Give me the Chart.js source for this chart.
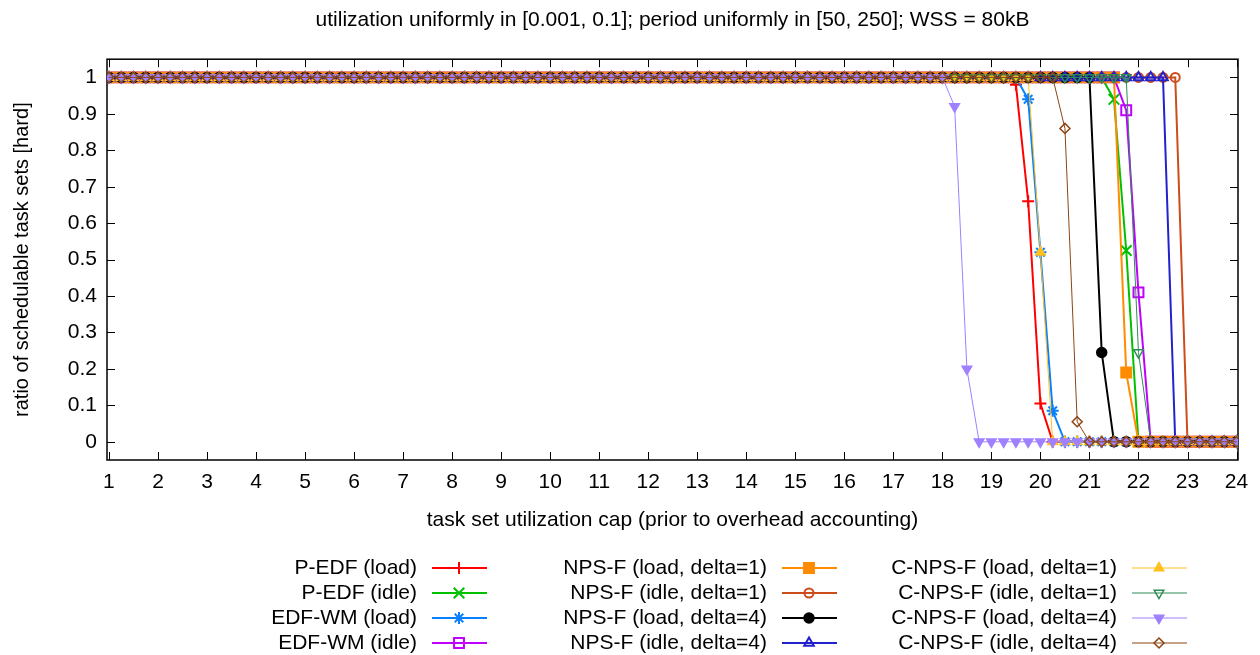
<!DOCTYPE html>
<html>
<head>
<meta charset="utf-8">
<script src="https://cdn.jsdelivr.net/npm/chart.js"></script>
<style>
  html, body { margin: 0; padding: 0; background: #fff; }
  #chart { display: block; }
</style>
</head>
<body>
<canvas id="chart" width="1260" height="655"></canvas>
<script>
// task set utilization cap, one point every 0.25
const caps = [
  1, 1.25, 1.5, 1.75, 2, 2.25, 2.5, 2.75, 3, 3.25, 3.5, 3.75, 4, 4.25, 4.5, 4.75, 5, 5.25, 5.5, 5.75,
  6, 6.25, 6.5, 6.75, 7, 7.25, 7.5, 7.75, 8, 8.25, 8.5, 8.75, 9, 9.25, 9.5, 9.75, 10, 10.25, 10.5, 10.75,
  11, 11.25, 11.5, 11.75, 12, 12.25, 12.5, 12.75, 13, 13.25, 13.5, 13.75, 14, 14.25, 14.5, 14.75, 15, 15.25, 15.5, 15.75,
  16, 16.25, 16.5, 16.75, 17, 17.25, 17.5, 17.75, 18, 18.25, 18.5, 18.75, 19, 19.25, 19.5, 19.75, 20, 20.25, 20.5, 20.75,
  21, 21.25, 21.5, 21.75, 22, 22.25, 22.5, 22.75, 23, 23.25, 23.5, 23.75, 24,
];

const xTicks = [1, 2, 3, 4, 5, 6, 7, 8, 9, 10, 11, 12, 13, 14, 15, 16, 17, 18, 19, 20, 21, 22, 23, 24];
const yTicks = [0, 0.1, 0.2, 0.3, 0.4, 0.5, 0.6, 0.7, 0.8, 0.9, 1];

// rows: 1-5.75 | 6-10.75 | 11-15.75 | 16-20.75 | 21-24
const pEdfLoad = [
  1,1,1,1,1,1,1,1,1,1,1,1,1,1,1,1,1,1,1,1,
  1,1,1,1,1,1,1,1,1,1,1,1,1,1,1,1,1,1,1,1,
  1,1,1,1,1,1,1,1,1,1,1,1,1,1,1,1,1,1,1,1,
  1,1,1,1,1,1,1,1,1,1,1,1,1,1,0.98,0.66,0.105,0,0,0,
  0,0,0,0,0,0,0,0,0,0,0,0,0,
];
const pEdfIdle = [
  1,1,1,1,1,1,1,1,1,1,1,1,1,1,1,1,1,1,1,1,
  1,1,1,1,1,1,1,1,1,1,1,1,1,1,1,1,1,1,1,1,
  1,1,1,1,1,1,1,1,1,1,1,1,1,1,1,1,1,1,1,1,
  1,1,1,1,1,1,1,1,1,1,1,1,1,1,1,1,1,1,1,1,
  1,1,0.94,0.525,0,0,0,0,0,0,0,0,0,
];
const edfWmLoad = [
  1,1,1,1,1,1,1,1,1,1,1,1,1,1,1,1,1,1,1,1,
  1,1,1,1,1,1,1,1,1,1,1,1,1,1,1,1,1,1,1,1,
  1,1,1,1,1,1,1,1,1,1,1,1,1,1,1,1,1,1,1,1,
  1,1,1,1,1,1,1,1,1,1,1,1,1,1,1,0.94,0.52,0.085,0,0,
  0,0,0,0,0,0,0,0,0,0,0,0,0,
];
const edfWmIdle = [
  1,1,1,1,1,1,1,1,1,1,1,1,1,1,1,1,1,1,1,1,
  1,1,1,1,1,1,1,1,1,1,1,1,1,1,1,1,1,1,1,1,
  1,1,1,1,1,1,1,1,1,1,1,1,1,1,1,1,1,1,1,1,
  1,1,1,1,1,1,1,1,1,1,1,1,1,1,1,1,1,1,1,1,
  1,1,1,0.91,0.41,0,0,0,0,0,0,0,0,
];
const npsfLoad1 = [
  1,1,1,1,1,1,1,1,1,1,1,1,1,1,1,1,1,1,1,1,
  1,1,1,1,1,1,1,1,1,1,1,1,1,1,1,1,1,1,1,1,
  1,1,1,1,1,1,1,1,1,1,1,1,1,1,1,1,1,1,1,1,
  1,1,1,1,1,1,1,1,1,1,1,1,1,1,1,1,1,1,1,1,
  1,1,1,0.19,0,0,0,0,0,0,0,0,0,
];
const npsfIdle1 = [
  1,1,1,1,1,1,1,1,1,1,1,1,1,1,1,1,1,1,1,1,
  1,1,1,1,1,1,1,1,1,1,1,1,1,1,1,1,1,1,1,1,
  1,1,1,1,1,1,1,1,1,1,1,1,1,1,1,1,1,1,1,1,
  1,1,1,1,1,1,1,1,1,1,1,1,1,1,1,1,1,1,1,1,
  1,1,1,1,1,1,1,1,0,0,0,0,0,
];
const npsfLoad4 = [
  1,1,1,1,1,1,1,1,1,1,1,1,1,1,1,1,1,1,1,1,
  1,1,1,1,1,1,1,1,1,1,1,1,1,1,1,1,1,1,1,1,
  1,1,1,1,1,1,1,1,1,1,1,1,1,1,1,1,1,1,1,1,
  1,1,1,1,1,1,1,1,1,1,1,1,1,1,1,1,1,1,1,1,
  1,0.245,0,0,0,0,0,0,0,0,0,0,0,
];
const npsfIdle4 = [
  1,1,1,1,1,1,1,1,1,1,1,1,1,1,1,1,1,1,1,1,
  1,1,1,1,1,1,1,1,1,1,1,1,1,1,1,1,1,1,1,1,
  1,1,1,1,1,1,1,1,1,1,1,1,1,1,1,1,1,1,1,1,
  1,1,1,1,1,1,1,1,1,1,1,1,1,1,1,1,1,1,1,1,
  1,1,1,1,1,1,1,0,0,0,0,0,0,
];
const cnpsfLoad1 = [
  1,1,1,1,1,1,1,1,1,1,1,1,1,1,1,1,1,1,1,1,
  1,1,1,1,1,1,1,1,1,1,1,1,1,1,1,1,1,1,1,1,
  1,1,1,1,1,1,1,1,1,1,1,1,1,1,1,1,1,1,1,1,
  1,1,1,1,1,1,1,1,1,1,1,1,1,1,1,1,0.52,0,0,0,
  0,0,0,0,0,0,0,0,0,0,0,0,0,
];
const cnpsfIdle1 = [
  1,1,1,1,1,1,1,1,1,1,1,1,1,1,1,1,1,1,1,1,
  1,1,1,1,1,1,1,1,1,1,1,1,1,1,1,1,1,1,1,1,
  1,1,1,1,1,1,1,1,1,1,1,1,1,1,1,1,1,1,1,1,
  1,1,1,1,1,1,1,1,1,1,1,1,1,1,1,1,1,1,1,1,
  1,1,1,1,0.245,0,0,0,0,0,0,0,0,
];
const cnpsfLoad4 = [
  1,1,1,1,1,1,1,1,1,1,1,1,1,1,1,1,1,1,1,1,
  1,1,1,1,1,1,1,1,1,1,1,1,1,1,1,1,1,1,1,1,
  1,1,1,1,1,1,1,1,1,1,1,1,1,1,1,1,1,1,1,1,
  1,1,1,1,1,1,1,1,1,0.92,0.2,0,0,0,0,0,0,0,0,0,
  0,0,0,0,0,0,0,0,0,0,0,0,0,
];
const cnpsfIdle4 = [
  1,1,1,1,1,1,1,1,1,1,1,1,1,1,1,1,1,1,1,1,
  1,1,1,1,1,1,1,1,1,1,1,1,1,1,1,1,1,1,1,1,
  1,1,1,1,1,1,1,1,1,1,1,1,1,1,1,1,1,1,1,1,
  1,1,1,1,1,1,1,1,1,1,1,1,1,1,1,1,1,1,0.86,0.055,
  0,0,0,0,0,0,0,0,0,0,0,0,0,
];

const seriesLabels = [
  "P-EDF (load)", "P-EDF (idle)", "EDF-WM (load)", "EDF-WM (idle)",
  "NPS-F (load, delta=1)", "NPS-F (idle, delta=1)", "NPS-F (load, delta=4)", "NPS-F (idle, delta=4)",
  "C-NPS-F (load, delta=1)", "C-NPS-F (idle, delta=1)", "C-NPS-F (load, delta=4)", "C-NPS-F (idle, delta=4)",
];
const seriesValues = [
  pEdfLoad, pEdfIdle, edfWmLoad, edfWmIdle,
  npsfLoad1, npsfIdle1, npsfLoad4, npsfIdle4,
  cnpsfLoad1, cnpsfIdle1, cnpsfLoad4, cnpsfIdle4,
];
const seriesStyles = [
  { color: "#ff0000", point: "cross", radius: 6, width: 2, pw: 2 },
  { color: "#00c000", point: "crossRot", radius: 7.5, width: 2, pw: 2 },
  { color: "#0a80ff", point: "star", radius: 6, width: 2, pw: 2 },
  { color: "#c000ff", point: "rect", radius: 7, width: 2, pw: 2, open: true },
  { color: "#ff8c00", point: "rect", radius: 7, width: 2, pw: 2 },
  { color: "#cc4c1c", point: "circle", radius: 4.5, width: 2, pw: 2, open: true },
  { color: "#000000", point: "circle", radius: 5, width: 2, pw: 1.5 },
  { color: "#2222cc", point: "triangle", radius: 5.5, width: 2, pw: 2, open: true },
  { color: "#ffc020", point: "triangle", radius: 5.5, width: 1, pw: 1.5 },
  { color: "#2e8b57", point: "triangle", radius: 5.5, width: 1, pw: 1.5, open: true, rotation: 180 },
  { color: "#9f80ff", point: "triangle", radius: 5.5, width: 1, pw: 1.5, rotation: 180 },
  { color: "#8b4513", point: "rectRot", radius: 5, width: 1, pw: 1.5, open: true },
];

const FONT = "'Liberation Sans', Arial, sans-serif";

function buildDatasets() {
  return seriesLabels.map((label, i) => {
    const s = seriesStyles[i];
    return {
      label,
      data: caps.map((x, j) => ({ x, y: seriesValues[i][j] })),
      borderColor: s.color,
      borderWidth: s.width,
      pointStyle: s.point,
      pointRadius: s.radius,
      pointRotation: s.rotation || 0,
      pointBorderColor: s.color,
      pointBackgroundColor: s.open ? "rgba(0,0,0,0)" : s.color,
      pointBorderWidth: s.pw,
      tension: 0,
      fill: false,
      // gnuplot draws later plots on top
      order: seriesLabels.length - 1 - i,
    };
  });
}

const framePlugin = {
  id: "frame",
  beforeDatasetsDraw(chart) {
    const { ctx, chartArea: a, scales } = chart;
    ctx.save();
    ctx.strokeStyle = "#000";
    ctx.lineWidth = 1;
    ctx.beginPath();
    scales.x.ticks.forEach((t) => {
      const px = Math.round(scales.x.getPixelForValue(t.value)) + 0.5;
      ctx.moveTo(px, a.bottom);
      ctx.lineTo(px, a.bottom - 8);
      ctx.moveTo(px, a.top);
      ctx.lineTo(px, a.top + 8);
    });
    scales.y.ticks.forEach((t) => {
      const py = Math.round(scales.y.getPixelForValue(t.value)) + 0.5;
      ctx.moveTo(a.left, py);
      ctx.lineTo(a.left + 8, py);
      ctx.moveTo(a.right, py);
      ctx.lineTo(a.right - 8, py);
    });
    ctx.stroke();
    ctx.lineWidth = 1.5;
    ctx.strokeRect(a.left, a.top, a.right - a.left, a.bottom - a.top);
    ctx.restore();
  },
};

const legendPlugin = {
  id: "keyBox",
  afterDraw(chart) {
    const ctx = chart.ctx;
    ctx.save();
    ctx.font = "21px " + FONT;
    ctx.textAlign = "right";
    ctx.textBaseline = "middle";
    chart.data.datasets.forEach((ds, i) => {
      const col = Math.floor(i / 4);
      const row = i % 4;
      const right = 417 + col * 350;
      const y = 568 + row * 25;
      ctx.fillStyle = "#000";
      ctx.fillText(ds.label, right, y);

      ctx.strokeStyle = ds.borderColor;
      ctx.lineWidth = ds.borderWidth;
      ctx.beginPath();
      ctx.moveTo(right + 15, y);
      ctx.lineTo(right + 70, y);
      ctx.stroke();

      ctx.fillStyle = ds.pointBackgroundColor;
      ctx.lineWidth = ds.pointBorderWidth;
      Chart.helpers.drawPoint(ctx, {
        pointStyle: ds.pointStyle,
        radius: ds.pointRadius,
        rotation: ds.pointRotation,
        borderWidth: ds.pointBorderWidth,
      }, right + 42, y);
    });
    ctx.restore();
  },
};

function setupChart() {
  Chart.defaults.font.family = FONT;
  Chart.defaults.font.size = 21;
  Chart.defaults.color = "#000";

  new Chart(document.getElementById("chart"), {
    type: "line",
    data: { datasets: buildDatasets() },
    options: {
      responsive: false,
      animation: false,
      devicePixelRatio: 1,
      events: [],
      layout: { padding: { left: 0, right: 22, top: 0, bottom: 115 } },
      plugins: {
        legend: { display: false },
        tooltip: { enabled: false },
        title: {
          display: true,
          fullSize: false,
          text: "utilization uniformly in [0.001, 0.1]; period uniformly in [50, 250]; WSS = 80kB",
          font: { size: 21, weight: "normal" },
          color: "#000",
          padding: { top: 8, bottom: 26 },
        },
      },
      scales: {
        x: {
          type: "linear",
          min: 0.96,
          max: 24.03,
          grid: { display: false, drawTicks: false },
          border: { display: false },
          afterBuildTicks: (scale) => { scale.ticks = xTicks.map((v) => ({ value: v })); },
          afterFit: (scale) => { scale.height = 80; },
          ticks: { padding: 10, maxRotation: 0, autoSkip: false, callback: (v) => String(v) },
          title: {
            display: true,
            text: "task set utilization cap (prior to overhead accounting)",
            padding: { top: 0, bottom: 7 },
          },
        },
        y: {
          type: "linear",
          min: -0.05,
          max: 1.05,
          grid: { display: false, drawTicks: false },
          border: { display: false },
          afterBuildTicks: (scale) => { scale.ticks = yTicks.map((v) => ({ value: v })); },
          afterFit: (scale) => { scale.width = 107; },
          ticks: { padding: 10, autoSkip: false, callback: (v) => String(Math.round(v * 10) / 10) },
          title: {
            display: true,
            text: "ratio of schedulable task sets [hard]",
            font: { size: 20 },
            padding: { top: 10, bottom: 0 },
          },
        },
      },
    },
    plugins: [framePlugin, legendPlugin],
  });
}

document.addEventListener("DOMContentLoaded", setupChart);
</script>
</body>
</html>
